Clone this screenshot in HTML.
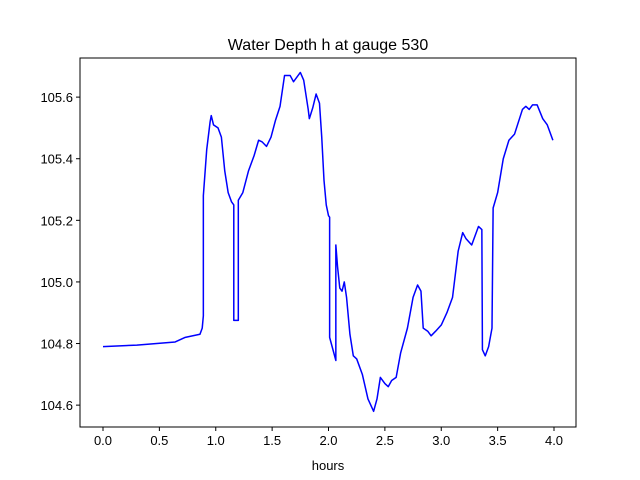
<!DOCTYPE html>
<html><head><meta charset="utf-8"><style>
html,body{margin:0;padding:0;background:#fff}
svg{display:block;font-family:"Liberation Sans","DejaVu Sans",sans-serif}
</style></head><body>
<svg id="chart" width="640" height="480" viewBox="0 0 640 480">
<rect width="640" height="480" fill="#fff"/>
<text x="328" y="50" text-anchor="middle" font-size="16">Water Depth h at gauge 530</text>
<g id="axes"></g>
<text x="328" y="470" text-anchor="middle" font-size="13">hours</text>
</svg>
<script>
const hours=[0,0.3,0.64,0.73,0.86,0.88,0.89,0.89,0.92,0.95,0.96,0.98,1.02,1.05,1.08,1.11,1.14,1.16,1.16,1.20,1.20,1.24,1.29,1.34,1.38,1.41,1.45,1.49,1.53,1.57,1.61,1.66,1.69,1.75,1.78,1.82,1.83,1.86,1.89,1.92,1.94,1.96,1.98,2.00,2.01,2.01,2.065,2.065,2.08,2.10,2.12,2.14,2.16,2.19,2.22,2.25,2.30,2.35,2.40,2.43,2.46,2.50,2.53,2.56,2.60,2.64,2.70,2.75,2.79,2.82,2.84,2.88,2.91,2.95,3.0,3.05,3.10,3.15,3.19,3.22,3.27,3.33,3.36,3.365,3.39,3.42,3.45,3.46,3.50,3.55,3.60,3.65,3.72,3.75,3.78,3.81,3.85,3.90,3.94,3.99];
const depth=[104.79,104.795,104.805,104.82,104.83,104.85,104.89,105.28,105.43,105.52,105.54,105.51,105.50,105.47,105.36,105.29,105.26,105.25,104.875,104.875,105.265,105.29,105.36,105.41,105.46,105.455,105.44,105.47,105.525,105.57,105.67,105.67,105.65,105.68,105.655,105.56,105.53,105.565,105.61,105.58,105.47,105.33,105.25,105.215,105.21,104.82,104.745,105.12,105.05,104.98,104.97,105.0,104.95,104.83,104.76,104.75,104.7,104.62,104.58,104.62,104.69,104.67,104.66,104.68,104.69,104.77,104.85,104.95,104.99,104.97,104.85,104.84,104.825,104.84,104.86,104.9,104.95,105.1,105.16,105.14,105.12,105.18,105.17,104.78,104.76,104.79,104.85,105.24,105.29,105.4,105.46,105.48,105.56,105.57,105.56,105.575,105.575,105.53,105.51,105.46];
const xTicks=[0,0.5,1.0,1.5,2.0,2.5,3.0,3.5,4.0];
const yTicks=[104.6,104.8,105.0,105.2,105.4,105.6];
const L=80,R=576,T=58,B=427;
const xmin=-0.204,xmax=4.195,ymin=104.529,ymax=105.727;
const X=v=>L+(v-xmin)/(xmax-xmin)*(R-L);
const Y=v=>B-(v-ymin)/(ymax-ymin)*(B-T);
const g=document.getElementById('axes');
const NS='http://www.w3.org/2000/svg';
function mk(t,a){const e=document.createElementNS(NS,t);for(const k in a)e.setAttribute(k,a[k]);g.appendChild(e);return e;}
const line=mk('path',{d:hours.map((h,i)=>(i?'L':'M')+X(h).toFixed(2)+','+Y(depth[i]).toFixed(2)).join(''),fill:'none',stroke:'#0000ff','stroke-width':1.5,'stroke-linejoin':'round'});


const frame=mk('rect',{x:L,y:T,width:R-L,height:B-T,fill:'none',stroke:'#000','stroke-width':1});


xTicks.forEach(v=>{const x=X(v);
const tk=mk('line',{x1:x,x2:x,y1:B,y2:B+4,stroke:'#000'});


const t=mk('text',{x:x,y:B+18,'text-anchor':'middle','font-size':13});t.textContent=v.toFixed(1);

});
yTicks.forEach(v=>{const y=Y(v);
const tk=mk('line',{x1:L-4,x2:L,y1:y,y2:y,stroke:'#000'});


const t=mk('text',{x:L-7,y:y+5,'text-anchor':'end','font-size':13});t.textContent=v.toFixed(1);

});
</script>
</body></html>
